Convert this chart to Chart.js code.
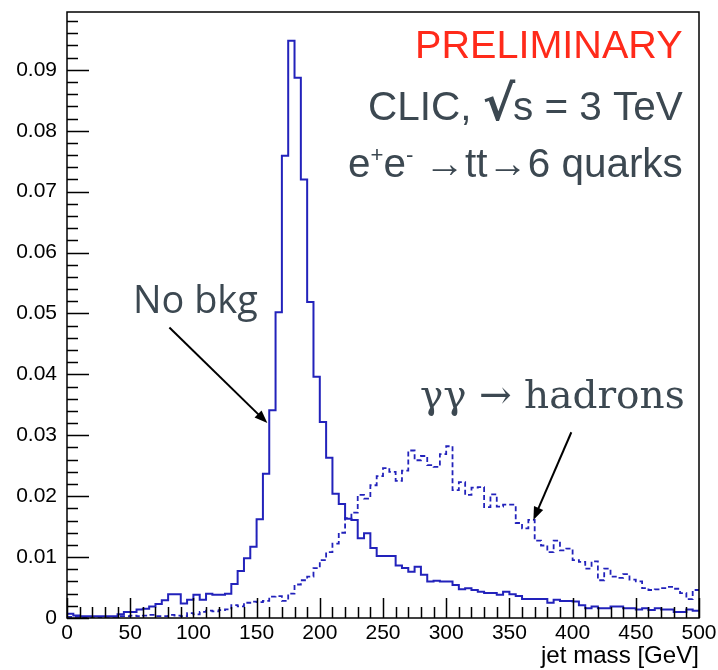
<!DOCTYPE html>
<html>
<head>
<meta charset="utf-8">
<script src="https://cdn.jsdelivr.net/npm/chart.js@4.4.1/dist/chart.umd.min.js"></script>
<style>
  html, body { margin: 0; padding: 0; background: #fff; }
  #wrap { width: 718px; height: 670px; }
</style>
</head>
<body>
<div id="wrap"><canvas id="jetChart" width="718" height="670"></canvas></div>
<script>
// histogram: 100 bins of 5 GeV from 0 to 500 GeV
const binStart = 0;
const binWidth = 5;

// solid: no background
const noBkg = [
  0.0007, 0.0004, 0.0003, 0.0003, 0.0003, 0.0003, 0.0003, 0.0003, 0.0006, 0.0010,
  0.0010, 0.0014, 0.0015, 0.0019, 0.0023, 0.0029, 0.0039, 0.0039, 0.0024, 0.0030,
  0.0038, 0.0030, 0.0040, 0.0038, 0.0038, 0.0040, 0.0056, 0.0077, 0.0098, 0.0117,
  0.0162, 0.0237, 0.0341, 0.0502, 0.0759, 0.0948, 0.0887, 0.0720, 0.0519, 0.0396,
  0.0322, 0.0263, 0.0204, 0.0187, 0.0163, 0.0161, 0.0131, 0.0139, 0.0115, 0.0102,
  0.0102, 0.0102, 0.0086, 0.0082, 0.0076, 0.0084, 0.0071, 0.0060, 0.0061, 0.0060,
  0.0060, 0.0054, 0.0047, 0.0049, 0.0046, 0.0043, 0.0041, 0.0041, 0.0038, 0.0043,
  0.0039, 0.0036, 0.0031, 0.0031, 0.0031, 0.0031, 0.0025, 0.0030, 0.0028, 0.0028,
  0.0027, 0.0021, 0.0016, 0.0019, 0.0016, 0.0016, 0.0019, 0.0019, 0.0016, 0.0016,
  0.0014, 0.0016, 0.0013, 0.0016, 0.0014, 0.0014, 0.0010, 0.0010, 0.0014, 0.0012
];

// dashed: gamma gamma -> hadrons overlay
const ggHadrons = [
  0.0002, 0.0002, 0.0001, 0.0001, 0.0002, 0.0001, 0.0002, 0.0002, 0.0003, 0.0003,
  0.0004, 0.0003, 0.0004, 0.0005, 0.0003, 0.0003, 0.0005, 0.0004, 0.0003, 0.0008,
  0.0006, 0.0010, 0.0012, 0.0011, 0.0013, 0.0014, 0.0021, 0.0019, 0.0025, 0.0027,
  0.0026, 0.0028, 0.0035, 0.0036, 0.0028, 0.0040, 0.0055, 0.0062, 0.0068, 0.0082,
  0.0095, 0.0108, 0.0122, 0.0140, 0.0164, 0.0173, 0.0202, 0.0196, 0.0218, 0.0233,
  0.0246, 0.0240, 0.0225, 0.0242, 0.0275, 0.0259, 0.0266, 0.0251, 0.0248, 0.0269,
  0.0282, 0.0210, 0.0223, 0.0202, 0.0214, 0.0215, 0.0182, 0.0203, 0.0183, 0.0186,
  0.0186, 0.0156, 0.0147, 0.0161, 0.0127, 0.0119, 0.0108, 0.0127, 0.0111, 0.0114,
  0.0095, 0.0092, 0.0081, 0.0093, 0.0062, 0.0081, 0.0068, 0.0066, 0.0072, 0.0063,
  0.0060, 0.0049, 0.0046, 0.0047, 0.0049, 0.0051, 0.0048, 0.0041, 0.0031, 0.0046
];

const xTicks = [0, 50, 100, 150, 200, 250, 300, 350, 400, 450, 500];
const yTicks = [0, 0.01, 0.02, 0.03, 0.04, 0.05, 0.06, 0.07, 0.08, 0.09];

const lineBlue = "#2222bb";
const textGrey = "#3c4851";
const SANS = "'Liberation Sans', Arial, sans-serif";

function histPoints(values) {
  const pts = values.map((v, i) => ({ x: binStart + i * binWidth, y: v }));
  pts.push({ x: binStart + values.length * binWidth, y: values[values.length - 1] });
  return pts;
}

function fontOf(p, size) {
  return `${p.weight || ""} ${(size * (p.rel || 1)).toFixed(1)}px ${p.fam || SANS}`;
}

// draw a run of text pieces scaled so the whole run is `width` wide
function drawRun(ctx, pieces, left, baseline, width) {
  let total = 0;
  pieces.forEach((p) => {
    ctx.font = fontOf(p, 100);
    p.w = ctx.measureText(p.t).width + (p.kern || 0) * 100;
    total += p.w;
  });
  const size = (100 * width) / total;
  let cx = left;
  pieces.forEach((p) => {
    ctx.font = fontOf(p, size);
    ctx.fillText(p.t, cx, baseline + (p.dy || 0) * size);
    cx += (p.w * size) / 100;
  });
}

function arrow(ctx, x0, y0, x1, y1) {
  const ang = Math.atan2(y1 - y0, x1 - x0);
  const len = 13, half = 5;
  ctx.beginPath();
  ctx.moveTo(x0, y0);
  ctx.lineTo(x1 - Math.cos(ang) * len * 0.8, y1 - Math.sin(ang) * len * 0.8);
  ctx.stroke();
  ctx.beginPath();
  ctx.moveTo(x1, y1);
  ctx.lineTo(x1 - Math.cos(ang) * len - Math.sin(ang) * half, y1 - Math.sin(ang) * len + Math.cos(ang) * half);
  ctx.lineTo(x1 - Math.cos(ang) * len + Math.sin(ang) * half, y1 - Math.sin(ang) * len - Math.cos(ang) * half);
  ctx.closePath();
  ctx.fill();
}

const decor = {
  id: "decor",
  afterDraw(chart) {
    const { ctx, chartArea: a, scales } = chart;
    const x = scales.x, y = scales.y;
    ctx.save();

    // frame
    ctx.strokeStyle = "#000";
    ctx.lineWidth = 1.5;
    ctx.strokeRect(a.left, a.top, a.right - a.left, a.bottom - a.top);

    // inward ticks, x: major every 50, minor every 10
    ctx.beginPath();
    for (let v = 0; v <= 500; v += 10) {
      const px = Math.round(x.getPixelForValue(v)) + 0.5;
      const len = v % 50 === 0 ? 20 : 11;
      ctx.moveTo(px, a.bottom);
      ctx.lineTo(px, a.bottom - len);
    }
    // y: major every 0.01, minor every 0.002
    for (let k = 0; k * 0.002 <= y.max; k++) {
      const py = Math.round(y.getPixelForValue(k * 0.002)) + 0.5;
      const len = k % 5 === 0 ? 22 : 11;
      ctx.moveTo(a.left, py);
      ctx.lineTo(a.left + len, py);
    }
    ctx.stroke();

    // axis title
    ctx.fillStyle = "#000";
    ctx.textAlign = "left";
    ctx.textBaseline = "alphabetic";
    drawRun(ctx, [{ t: "jet mass [GeV]" }], a.right - 158, 663, 158);

    // labels top right
    ctx.fillStyle = "#ff2a1a";
    drawRun(ctx, [{ t: "PRELIMINARY" }], 415, 58, 268);

    ctx.fillStyle = textGrey;
    drawRun(ctx, [
      { t: "CLIC, " },
      { t: "\u221A", fam: "'DejaVu Sans', sans-serif", weight: "bold", rel: 1.2, kern: -0.06 },
      { t: "s = 3 TeV" },
    ], 368, 120, 315);

    drawRun(ctx, [
      { t: "e" },
      { t: "+", rel: 0.55, dy: -0.38 },
      { t: "e" },
      { t: "-", rel: 0.55, dy: -0.38 },
      { t: " \u2192tt\u21926 quarks" },
    ], 348, 177, 335);

    drawRun(ctx, [{ t: "No bkg", fam: "'Open Sans', sans-serif" }], 133, 313, 125);

    drawRun(ctx, [{ t: "\u03B3\u03B3 \u2192 hadrons", fam: "'DejaVu Serif', serif" }], 420, 408, 265);

    // arrows anchored in data coordinates
    ctx.strokeStyle = "#000";
    ctx.fillStyle = "#000";
    ctx.lineWidth = 2;
    arrow(ctx, x.getPixelForValue(81), y.getPixelForValue(0.0477),
               x.getPixelForValue(158.5), y.getPixelForValue(0.0320));
    arrow(ctx, x.getPixelForValue(399), y.getPixelForValue(0.0305),
               x.getPixelForValue(369), y.getPixelForValue(0.0161));

    ctx.restore();
  },
};

new Chart(document.getElementById("jetChart"), {
  type: "line",
  data: {
    datasets: [
      {
        label: "gg -> hadrons",
        data: histPoints(ggHadrons),
        stepped: "before",
        borderColor: lineBlue,
        borderWidth: 1.8,
        borderDash: [5, 3],
        pointRadius: 0,
        fill: false,
      },
      {
        label: "No bkg",
        data: histPoints(noBkg),
        stepped: "before",
        borderColor: lineBlue,
        borderWidth: 2,
        pointRadius: 0,
        fill: false,
      },
    ],
  },
  options: {
    responsive: false,
    animation: false,
    devicePixelRatio: 1,
    layout: { padding: { top: 12, right: 19, left: 0, bottom: 0 } },
    plugins: { legend: { display: false }, tooltip: { enabled: false } },
    scales: {
      x: {
        type: "linear",
        min: 0,
        max: 500,
        grid: { display: false, drawTicks: false },
        border: { display: false },
        afterBuildTicks: (axis) => { axis.ticks = xTicks.map((v) => ({ value: v })); },
        afterFit: (axis) => { axis.height = 52; axis.paddingLeft = 0; axis.paddingRight = 0; },
        ticks: {
          maxRotation: 0,
          padding: 3,
          color: "#000",
          font: { family: SANS, size: 21 },
        },
      },
      y: {
        min: 0,
        max: 0.0995,
        grid: { display: false, drawTicks: false },
        border: { display: false },
        afterBuildTicks: (axis) => { axis.ticks = yTicks.map((v) => ({ value: v })); },
        afterFit: (axis) => { axis.width = 67; axis.paddingTop = 0; axis.paddingBottom = 0; },
        ticks: {
          padding: 10,
          color: "#000",
          font: { family: SANS, size: 21 },
          callback: (v) => (v === 0 ? "0" : v.toFixed(2)),
        },
      },
    },
  },
  plugins: [decor],
});
</script>
</body>
</html>
